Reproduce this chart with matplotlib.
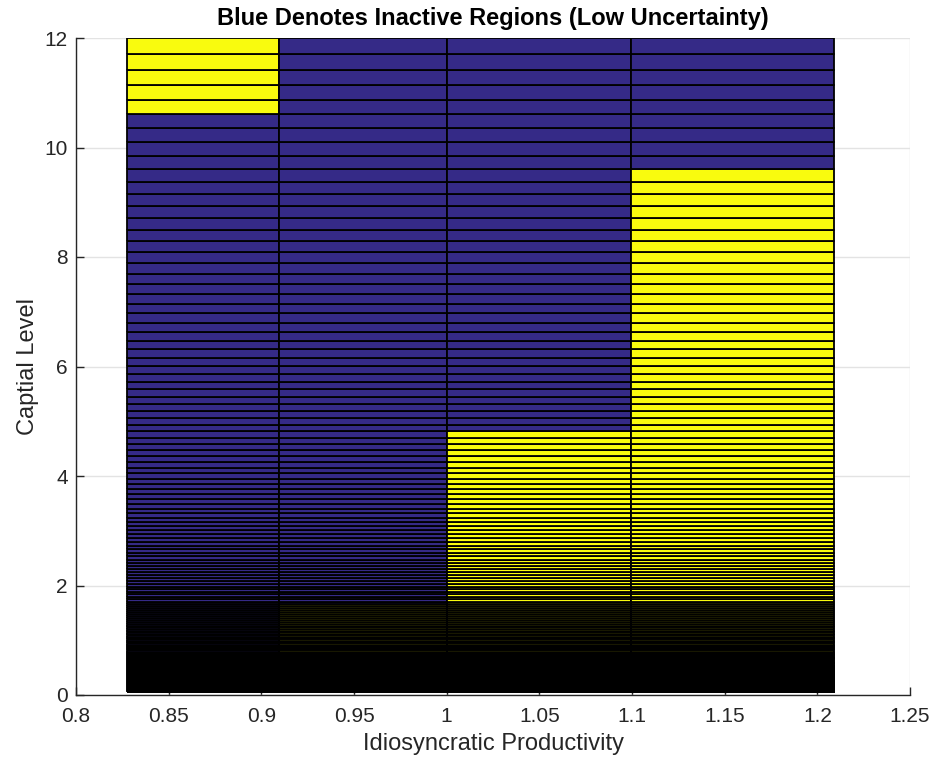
import numpy as np
import matplotlib
matplotlib.use("Agg")
import matplotlib.pyplot as plt
from matplotlib.colors import ListedColormap

plt.rcParams['font.family'] = ['Liberation Sans', 'DejaVu Sans']

# productivity grid (column edges)
z_grid = [0.8275, 0.9095, 1.0, 1.0995, 1.209]

# capital grid (row edges), top to bottom
k_grid = [
    12.000, 11.707, 11.422, 11.143, 10.871, 10.606, 10.348, 10.095, 9.849, 9.609,
    9.374, 9.146, 8.923, 8.705, 8.493, 8.286, 8.084, 7.886, 7.694, 7.506,
    7.323, 7.145, 6.970, 6.800, 6.635, 6.473, 6.315, 6.161, 6.011, 5.864,
    5.721, 5.581, 5.445, 5.312, 5.183, 5.056, 4.933, 4.813, 4.695, 4.581,
    4.469, 4.360, 4.254, 4.150, 4.049, 3.950, 3.854, 3.760, 3.668, 3.579,
    3.491, 3.406, 3.323, 3.242, 3.163, 3.086, 3.011, 2.937, 2.865, 2.796,
    2.727, 2.661, 2.596, 2.533, 2.471, 2.411, 2.352, 2.294, 2.239, 2.184,
    2.131, 2.079, 2.028, 1.979, 1.930, 1.883, 1.837, 1.792, 1.749, 1.706,
    1.664, 1.624, 1.584, 1.546, 1.508, 1.471, 1.435, 1.400, 1.366, 1.333,
    1.300, 1.269, 1.238, 1.207, 1.178, 1.149, 1.121, 1.094, 1.067, 1.041,
    1.0158, 0.9910, 0.9668, 0.9432, 0.9202, 0.8978, 0.8759, 0.8545, 0.8337, 0.8134,
    0.7935, 0.7742, 0.7553, 0.7369, 0.7189, 0.7014, 0.6843, 0.6676, 0.6513, 0.6354,
    0.6199, 0.6048, 0.5900, 0.5756, 0.5616, 0.5479, 0.5345, 0.5215, 0.5088, 0.4964,
    0.4843, 0.4725, 0.4609, 0.4497, 0.4387, 0.4280, 0.4176, 0.4074, 0.3975, 0.3878,
    0.3783, 0.3691, 0.3601, 0.3513, 0.3427, 0.3344, 0.3262, 0.3183, 0.3105, 0.3029,
    0.2955, 0.2883, 0.2813, 0.2744, 0.2677, 0.2612, 0.2548, 0.2486, 0.2426, 0.2367,
    0.2309, 0.2252, 0.2198, 0.2144, 0.2092, 0.2041, 0.1991, 0.1942, 0.1895, 0.1849,
    0.1804, 0.1760, 0.1717, 0.1675, 0.1634, 0.1594, 0.1555, 0.1517, 0.1480, 0.1444,
    0.1409, 0.1375, 0.1341, 0.1308, 0.1277, 0.1245, 0.1215, 0.1185, 0.1156, 0.1128,
    0.1101, 0.1074, 0.1048, 0.1022, 0.0997, 0.0973, 0.0949, 0.0926, 0.0903, 0.0881,
    0.0860, 0.0839, 0.0818, 0.0799, 0.0779, 0.0760, 0.0742, 0.0723, 0.0706, 0.0689,
    0.0672, 0.0655, 0.0639, 0.0624, 0.0609,
]

# active (yellow) band for each productivity column: [low, high] in capital
active_lo = [10.60, 0.0, 0.0, 0.0]
active_hi = [12.00, 1.664, 4.813, 9.609]

blue = '#352A87'
yellow = '#F9FB0E'

k = np.sort(np.array(k_grid))
z = np.array(z_grid)
k_mid = 0.5 * (k[:-1] + k[1:])

C = np.zeros((len(k) - 1, len(z) - 1))
for j in range(len(z) - 1):
    C[:, j] = (k_mid >= active_lo[j]) & (k_mid <= active_hi[j])

fig = plt.figure(figsize=(9.36, 7.63), dpi=100)
ax = fig.add_axes([76/936, 68/763, 834/936, 657/763])

ax.pcolormesh(z, k, C, cmap=ListedColormap([blue, yellow]), vmin=0, vmax=1,
              edgecolors='k', linewidth=1.3, antialiased=True)

ax.set_xlim(0.8, 1.25)
ax.set_ylim(0, 12)
ax.set_xticks(np.arange(0.8, 1.2501, 0.05))
ax.set_xticklabels(['0.8', '0.85', '0.9', '0.95', '1', '1.05', '1.1', '1.15', '1.2', '1.25'])
ax.set_yticks(range(0, 13, 2))

ax.set_axisbelow(True)
ax.grid(True, color='#E3E3E3', linewidth=1.0)
for s in ['top', 'right']:
    ax.spines[s].set_visible(False)
for s in ['left', 'bottom']:
    ax.spines[s].set_color('#262626')
    ax.spines[s].set_linewidth(1.0)
ax.tick_params(direction='in', length=6, width=1.0, colors='#262626', labelsize=15)
ax.tick_params(axis='x', pad=9)
ax.tick_params(axis='y', pad=6)

ax.set_xlabel('Idiosyncratic Productivity', fontsize=17, color='#262626', labelpad=5)
ax.set_ylabel('Captial Level', fontsize=17, color='#262626', labelpad=4)
ax.set_title('Blue Denotes Inactive Regions (Low Uncertainty)', fontsize=17,
             fontweight='bold', color='black', pad=9)

fig.savefig('out.png', dpi=100)
